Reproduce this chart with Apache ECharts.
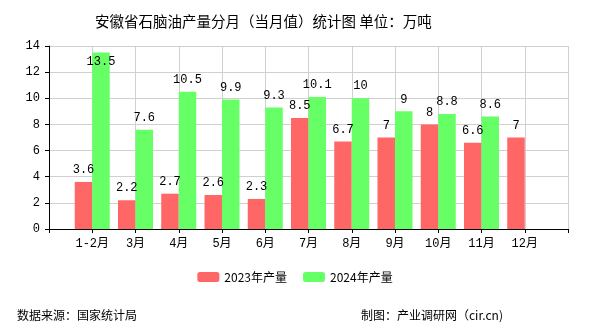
<!DOCTYPE html>
<html><head><meta charset="utf-8">
<script src="https://cdn.jsdelivr.net/npm/echarts@6/dist/echarts.min.js"></script>
<style>html,body{margin:0;padding:0;background:#fff}#c{width:590px;height:330px}</style>
</head><body><div id="c"></div>
<script>
var categories = ['1-2月','3月','4月','5月','6月','7月','8月','9月','10月','11月','12月'];
var values2023 = [3.6, 2.2, 2.7, 2.6, 2.3, 8.5, 6.7, 7, 8, 6.6, 7];
var values2024 = [13.5, 7.6, 10.5, 9.9, 9.3, 10.1, 10, 9, 8.8, 8.6, null];
var seriesNames = ['2023年产量','2024年产量'];
var yTicks = [0, 2, 4, 6, 8, 10, 12, 14];

var monoFont = "'Liberation Mono','DejaVu Sans Mono','Noto Sans CJK SC',monospace";
var cjkFont = "'Noto Sans CJK SC',sans-serif";

// padded axis: one empty slot at each end (axis without boundary gap)
var axisCats = [''].concat(categories, ['']);
function pad(arr) {
  return [null].concat(arr, [null]).map(function (v) {
    if (v === null) return null;
    return v > 12.8 ? { value: v, label: { position: 'insideTop', distance: 3 } } : v;
  });
}

var chart = echarts.init(document.getElementById('c'));
chart.setOption({
  animation: false,
  backgroundColor: '#fff',
  title: [{
    text: '安徽省石脑油产量分月（当月值）统计图 单位：万吨',
    left: 90, top: 9,
    textStyle: { fontFamily: cjkFont, fontSize: 14.5, fontWeight: 'normal', color: '#000' }
  }, {
    text: '数据来源：国家统计局',
    left: 12, top: 304,
    textStyle: { fontFamily: cjkFont, fontSize: 12, fontWeight: 'normal', color: '#000' }
  }, {
    text: '制图：产业调研网（cir.cn)',
    right: 82, top: 304,
    textStyle: { fontFamily: cjkFont, fontSize: 12, fontWeight: 'normal', color: '#000' }
  }],
  legend: {
    data: seriesNames,
    left: 'center', top: 266,
    itemWidth: 22, itemHeight: 10, itemGap: 16,
    textStyle: { fontFamily: cjkFont, fontSize: 12, color: '#000' }
  },
  grid: { left: 49, right: 22, top: 46, bottom: 101, containLabel: false },
  xAxis: {
    type: 'category',
    data: axisCats,
    boundaryGap: false,
    axisLine: { lineStyle: { color: '#000', width: 1 } },
    axisTick: { show: true, length: 4, lineStyle: { color: '#000' } },
    axisLabel: { color: '#000', fontFamily: monoFont, fontSize: 12, margin: 9, interval: 0 },
    splitLine: { show: true, lineStyle: { color: '#d0d0d0', width: 1 } }
  },
  yAxis: {
    type: 'value',
    min: yTicks[0], max: yTicks[yTicks.length - 1], interval: yTicks[1] - yTicks[0],
    axisLine: { show: true, lineStyle: { color: '#000', width: 1 } },
    axisTick: { show: true, length: 4, lineStyle: { color: '#000' } },
    axisLabel: { color: '#000', fontFamily: monoFont, fontSize: 12, margin: 9 },
    splitLine: { show: true, lineStyle: { color: '#d0d0d0', width: 1 } }
  },
  series: [{
    name: seriesNames[0], type: 'bar',
    data: pad(values2023),
    barWidth: 17.5, barGap: '0%',
    itemStyle: { color: '#ff6666' },
    label: { show: true, position: 'top', distance: 6, color: '#000', fontFamily: monoFont, fontSize: 12 }
  }, {
    name: seriesNames[1], type: 'bar',
    data: pad(values2024),
    barWidth: 17.5, barGap: '0%',
    itemStyle: { color: '#66ff66' },
    label: { show: true, position: 'top', distance: 6, color: '#000', fontFamily: monoFont, fontSize: 12 }
  }]
});
</script></body></html>
